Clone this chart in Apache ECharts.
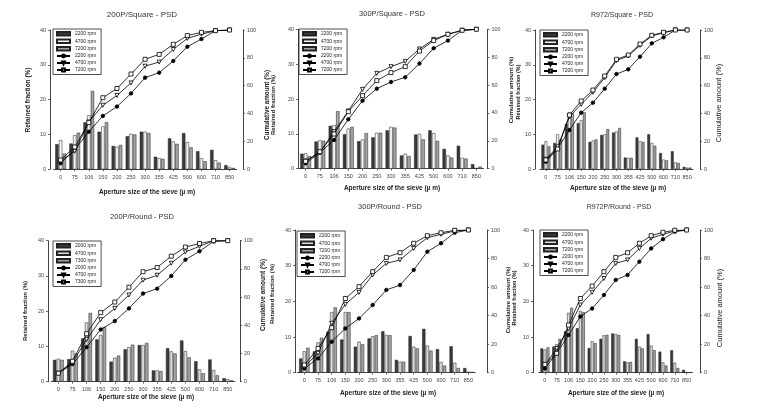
<!DOCTYPE html>
<html><head><meta charset="utf-8">
<script src="https://cdn.jsdelivr.net/npm/echarts@6/dist/echarts.min.js"></script>
<style>html,body{margin:0;padding:0;background:#fff}#c{width:780px;height:411px}</style>
</head><body><div id="c"></div><script>
// ---------- DATA ----------
const sieveSizes = ['0','75','106','150','200','250','300','355','425','500','600','710','850'];

const panelTitles = ['200P/Square - PSD','300P/Square - PSD','R972/Square - PSD','200P/Round - PSD','300P/Round - PSD','R972P/Round - PSD'];
const panelSpeeds = [
  ['2200 rpm','4700 rpm','7200 rpm'],
  ['2200 rpm','4700 rpm','7200 rpm'],
  ['2200 rpm','4700 rpm','7200 rpm'],
  ['2000 rpm','4700 rpm','7300 rpm'],
  ['2200 rpm','4700 rpm','7200 rpm'],
  ['2200 rpm','4700 rpm','7200 rpm']
];

// 200P/Square
const sq200Ret2200 = [7.2, 7.4, 13.5, 10.8, 6.7, 9.5, 10.8, 3.6, 8.9, 10.4, 5.2, 5.6, 1.2];
const sq200Ret4700 = [8.4, 9.8, 15.5, 12.3, 6.5, 10.2, 10.8, 3.2, 8.0, 7.8, 3.2, 2.6, 0.7];
const sq200Ret7200 = [4.5, 10.5, 22.5, 13.5, 7.0, 10.0, 10.4, 3.0, 7.3, 6.3, 2.3, 1.9, 0.4];
const sq200Cum2200 = [4.3, 14, 27, 38.3, 45, 54.5, 65.8, 69.4, 77.8, 88, 93.5, 99.5, 100];
const sq200Cum4700 = [6, 13, 34, 46, 53, 62, 74, 77, 86, 94, 97, 99.5, 100];
const sq200Cum7200 = [6.7, 16, 33.5, 51.4, 58, 68.4, 79, 82.5, 89.7, 96, 98.3, 99.5, 100];

// 300P/Square
const sq300Ret2200 = [4.3, 7.8, 12.3, 9.9, 7.9, 9.0, 11.0, 3.8, 9.8, 11.0, 5.7, 6.6, 1.3];
const sq300Ret4700 = [4.4, 8.2, 12.5, 11.5, 8.4, 10.3, 12.0, 4.3, 10.0, 10.2, 3.8, 3.1, 0.2];
const sq300Ret7200 = [3.6, 8.0, 16.5, 12.0, 10.2, 10.3, 11.8, 3.6, 8.4, 8.0, 3.2, 2.9, 0.6];
const sq300Cum2200 = [3.8, 11.5, 20.6, 35.4, 48.8, 57.4, 62.2, 65.6, 75.4, 86.4, 91.9, 99.3, 100];
const sq300Cum4700 = [5.5, 11.7, 26.6, 41.4, 56.9, 68.4, 73.2, 77.0, 85.9, 92.8, 96.4, 99.3, 100];
const sq300Cum7200 = [5.3, 12.2, 24.9, 40.9, 52.4, 63.2, 68.9, 73.2, 84.4, 91.9, 96.4, 99.3, 100];

// R972/Square
const sqR972Ret2200 = [7.0, 7.5, 13.0, 13.2, 7.8, 9.8, 10.5, 3.3, 9.1, 10.0, 4.6, 5.1, 0.6];
const sqR972Ret4700 = [8.0, 10.0, 16.3, 14.0, 8.2, 10.0, 10.8, 3.2, 8.0, 7.5, 2.7, 1.9, 0.4];
const sqR972Ret7200 = [6.5, 8.5, 16.0, 16.3, 8.5, 11.5, 11.8, 3.2, 7.8, 6.7, 2.5, 1.7, 0.4];
const sqR972Cum2200 = [5.3, 14.9, 28, 40.5, 47.7, 57.8, 68.3, 71.7, 80.8, 90.4, 94.7, 100, 100];
const sqR972Cum4700 = [7, 16, 37.6, 46.5, 55.2, 65.7, 78, 81.3, 89, 95.7, 98, 100, 100];
const sqR972Cum7200 = [6.5, 14.4, 38.8, 48.9, 56.8, 66.9, 78.9, 82, 89.9, 96.2, 98.3, 100, 100];

// 200P/Round
const rd200Ret2000 = [6.2, 6.4, 12.3, 12.0, 5.7, 9.2, 10.4, 3.2, 9.5, 11.7, 5.8, 6.3, 1.0];
const rd200Ret4700 = [6.5, 8.8, 16.8, 13.2, 6.8, 9.8, 10.4, 3.2, 8.6, 8.7, 3.5, 3.3, 0.7];
const rd200Ret7300 = [6.2, 8.0, 19.5, 15.5, 7.4, 10.5, 11.0, 3.0, 8.0, 6.9, 2.4, 1.8, 0.4];
const rd200Cum2000 = [6, 12.5, 24.5, 37, 43, 52, 62.5, 66, 75, 86.5, 92.5, 99.5, 100];
const rd200Cum4700 = [6, 13.5, 30, 44, 52, 61.5, 72, 75.5, 84, 92, 96, 100, 100];
const rd200Cum7300 = [6, 14.5, 34, 49, 56.5, 67, 78, 81, 89, 95.5, 98, 100, 100];

// 300P/Round
const rd300Ret2200 = [4.0, 6.0, 11.5, 9.3, 7.3, 9.6, 11.6, 3.6, 10.3, 12.3, 6.6, 7.4, 1.3];
const rd300Ret4700 = [6.0, 8.5, 17.0, 17.0, 8.7, 10.2, 10.6, 3.1, 7.3, 7.6, 3.0, 2.8, 0.3];
const rd300Ret7200 = [7.0, 9.8, 18.3, 17.0, 8.0, 10.5, 10.5, 3.1, 6.8, 6.2, 2.0, 1.3, 0.2];
const rd300Cum2200 = [3, 10, 21.7, 31, 38, 47.4, 58, 61.4, 72, 84.8, 90.7, 98.1, 100];
const rd300Cum4700 = [4.2, 13.6, 34.6, 47.9, 56.3, 68.5, 76.6, 79, 87.1, 94.6, 97, 99.3, 100];
const rd300Cum7200 = [5.4, 17, 31.5, 52, 60.3, 70.8, 80.8, 84.1, 90.7, 96, 98.1, 99.8, 100];

// R972P/Round
const rdR972Ret2200 = [6.8, 7.3, 11.6, 12.5, 6.9, 9.5, 11.0, 3.2, 9.5, 10.8, 5.9, 6.3, 0.8];
const rdR972Ret4700 = [6.5, 8.0, 16.8, 17.3, 8.8, 10.5, 10.8, 2.9, 7.3, 7.6, 2.9, 2.8, 0.2];
const rdR972Ret7200 = [7.1, 9.5, 18.2, 17.0, 8.3, 10.6, 10.6, 3.0, 6.8, 6.3, 2.0, 1.3, 0.1];
const rdR972Cum2200 = [3, 13.6, 26.4, 39.3, 45, 54.4, 65, 68.5, 77.8, 87.1, 93.5, 98.8, 100];
const rdR972Cum4700 = [5.4, 17, 31, 47.4, 56.3, 66, 76.6, 79, 87.1, 94.2, 97, 99.3, 100];
const rdR972Cum7200 = [5.8, 13.6, 33.4, 52, 60.7, 70.8, 80.8, 84.1, 90.7, 96, 98.4, 99.8, 100];

const retainedTitle = 'Retained fraction (%)';
const cumulativeTitle = 'Cumulative amount (%)';
const xTitle = 'Aperture size of the sieve (µ m)';

// ---------- BUILD ----------
const panelRet = [
  [sq200Ret2200, sq200Ret4700, sq200Ret7200],
  [sq300Ret2200, sq300Ret4700, sq300Ret7200],
  [sqR972Ret2200, sqR972Ret4700, sqR972Ret7200],
  [rd200Ret2000, rd200Ret4700, rd200Ret7300],
  [rd300Ret2200, rd300Ret4700, rd300Ret7200],
  [rdR972Ret2200, rdR972Ret4700, rdR972Ret7200]
];
const panelCum = [
  [sq200Cum2200, sq200Cum4700, sq200Cum7200],
  [sq300Cum2200, sq300Cum4700, sq300Cum7200],
  [sqR972Cum2200, sqR972Cum4700, sqR972Cum7200],
  [rd200Cum2000, rd200Cum4700, rd200Cum7300],
  [rd300Cum2200, rd300Cum4700, rd300Cum7200],
  [rdR972Cum2200, rdR972Cum4700, rdR972Cum7200]
];

const layout = [
  {left:53.6, top:30, width:183, height:139.3, offL:3.6, offR:6.3, lg:[53,29]},
  {left:298.5, top:29.3, width:185, height:139.4, offL:0.5, offR:4, lg:[299,29]},
  {left:540, top:30, width:153, height:139, offL:5, offR:7, lg:[540,30]},
  {left:51.3, top:240.7, width:183.5, height:141, offL:3.3, offR:5.2, lg:[53,241]},
  {left:297.5, top:230, width:177.7, height:142.7, offL:2.5, offR:11.8, lg:[297,231]},
  {left:539, top:230, width:153.5, height:142.7, offL:6, offR:7.4, lg:[540,230]}
];

const FONT = 'Liberation Sans, Arial, sans-serif';
const barColorsTop = ['#3a3a3a', '#f4f4f4', '#a3a3a3'];
const barColorsBot = ['#3a3a3a', '#dcdcdc', '#a3a3a3'];
const lineSymbols = [
  {symbol:'circle', fill:'#000', rotate:0},
  {symbol:'triangle', fill:'#fff', rotate:180},
  {symbol:'rect', fill:'#fff', rotate:0}
];

const grid = [], xAxis = [], yAxis = [], series = [], legend = [];
const labelMap = {};

layout.forEach((L, i) => {
  grid.push({left:L.left, top:L.top, width:L.width, height:L.height, containLabel:false});
  const axisCommon = {
    axisLine:{show:true, lineStyle:{color:'#444', width:1}},
    axisTick:{show:true, length:2, lineStyle:{color:'#444', width:0.8}},
    axisLabel:{fontSize:5.5, color:'#444', fontFamily:FONT, margin:4},
    splitLine:{show:false}
  };
  xAxis.push(Object.assign({type:'category', gridIndex:i, data:sieveSizes}, axisCommon, {
    axisTick:{show:true, length:2, alignWithLabel:true, lineStyle:{color:'#444', width:0.8}},
    axisLabel:{fontSize:5.5, color:'#444', fontFamily:FONT, margin:5, interval:0}
  }));
  yAxis.push(Object.assign({type:'value', gridIndex:i, position:'left', offset:L.offL, min:0, max:40, interval:10}, axisCommon));
  yAxis.push(Object.assign({type:'value', gridIndex:i, position:'right', offset:L.offR, min:0, max:100, interval:20}, axisCommon));

  const colors = i < 3 ? barColorsTop : barColorsBot;
  const names = [];
  panelRet[i].forEach((arr, k) => {
    const nm = 'p' + i + '|bar|' + k;
    labelMap[nm] = panelSpeeds[i][k];
    names.push({name:nm, icon:'rect'});
    series.push({
      type:'bar', name:nm, xAxisIndex:i, yAxisIndex:2*i, data:arr,
      barGap:'10%', barCategoryGap:'24%',
      itemStyle:{color:colors[k], borderColor:'#222', borderWidth:0.5},
      emphasis:{disabled:true}, z:2
    });
  });
  panelCum[i].forEach((arr, k) => {
    const nm = 'p' + i + '|line|' + k;
    labelMap[nm] = panelSpeeds[i][k];
    names.push({name:nm});
    const s = lineSymbols[k];
    series.push({
      type:'line', name:nm, xAxisIndex:i, yAxisIndex:2*i+1, data:arr,
      symbol:s.symbol, symbolRotate:s.rotate, symbolSize:k===0?3.5:4, showAllSymbol:true,
      lineStyle:{color:'#000', width:0.8},
      itemStyle:{color:s.fill, borderColor:'#000', borderWidth:0.8},
      emphasis:{disabled:true}, z:4
    });
  });
  legend.push({
    left:L.lg[0], top:L.lg[1], orient:'vertical', data:names,
    formatter:n => labelMap[n],
    itemWidth:13, itemHeight:3.5, itemGap:2,
    textStyle:{fontSize:5, color:'#222', fontFamily:FONT},
    borderColor:'#222', borderWidth:0.8, padding:[2,5,2,3],
    backgroundColor:'#fff', selectedMode:false
  });
});

// ---------- TEXTS ----------
const titlePos = [[142,15,8],[392,14,7.5],[622,15,7],[142,217,7.5],[390,207,7.5],[619,207,7]];
const xTitlePos = [[147,192],[392,188],[618,188],[146,397],[388,393],[616,393]];
const sideTexts = [
  [retainedTitle, 28, 100, 6.5, 'bold'],
  [cumulativeTitle, 267, 105, 6.3, 'bold'],
  [retainedTitle, 273.5, 105, 6, 'bold'],
  [cumulativeTitle, 511, 90, 6, 'bold'],
  [retainedTitle, 518, 92, 5.5, 'bold'],
  [cumulativeTitle, 719, 103, 7.5, 'normal'],
  [retainedTitle, 25, 311, 6, 'bold'],
  [cumulativeTitle, 263, 295, 6.5, 'bold'],
  [retainedTitle, 272, 294, 6, 'bold'],
  [cumulativeTitle, 508, 300, 6, 'bold'],
  [retainedTitle, 514, 298, 5.5, 'bold'],
  [cumulativeTitle, 720, 308, 7.5, 'normal']
];
const graphic = [];
panelTitles.forEach((t, i) => {
  graphic.push({type:'text', x:titlePos[i][0], y:titlePos[i][1],
    style:{text:t, fontSize:titlePos[i][2], fill:'#333', fontFamily:FONT, textAlign:'center', textVerticalAlign:'middle'}});
  graphic.push({type:'text', x:xTitlePos[i][0], y:xTitlePos[i][1],
    style:{text:xTitle, fontSize:6.5, fontWeight:'bold', fill:'#222', fontFamily:FONT, textAlign:'center', textVerticalAlign:'middle'}});
});
sideTexts.forEach(s => {
  graphic.push({type:'text', x:s[1], y:s[2], rotation:Math.PI/2,
    style:{text:s[0], fontSize:s[3], fontWeight:s[4], fill:'#222', fontFamily:FONT, textAlign:'center', textVerticalAlign:'middle'}});
});

const chart = echarts.init(document.getElementById('c'), null, {renderer:'canvas'});
chart.setOption({
  backgroundColor:'#fff', animation:false,
  textStyle:{fontFamily:FONT},
  grid, xAxis, yAxis, series, legend, graphic
});
</script></body></html>
